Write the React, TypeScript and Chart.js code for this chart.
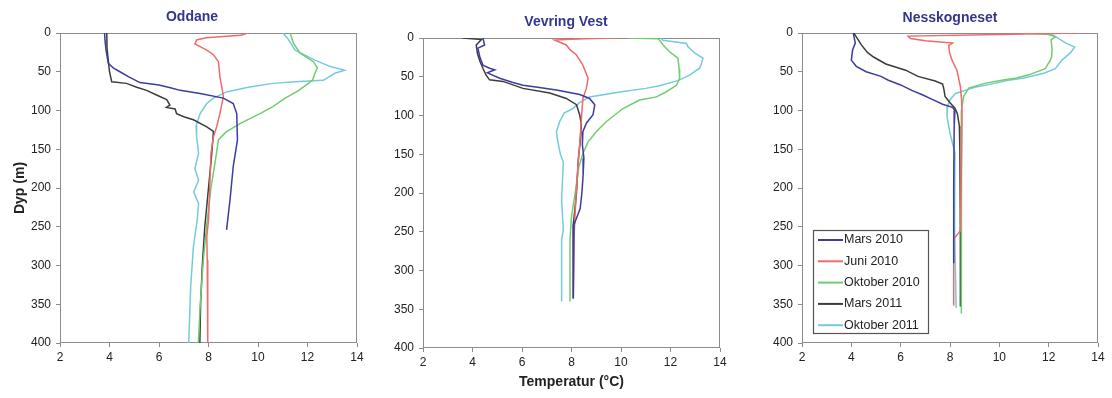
import React, { useEffect, useRef } from 'react';
import { Chart, registerables } from 'chart.js';

Chart.register(...registerables);

// ---------- series / ticks ----------
const seriesNames = ['Mars 2010', 'Juni 2010', 'Oktober 2010', 'Mars 2011', 'Oktober 2011'];
const seriesColors = ['#3c3ca2', '#f06a6a', '#6fcd6f', '#3c3c3c', '#74cbdb'];
const xTickValues = [2, 4, 6, 8, 10, 12, 14];
const yTickValues = [0, 50, 100, 150, 200, 250, 300, 350, 400];
const panelTitles = ['Oddane', 'Vevring Vest', 'Nesskogneset'];

// ---------- data: [depth (m), temperature (°C)] ----------
// Oddane
const oddaneMars2010 = [[0, 3.8], [10, 3.82], [22, 3.86], [39, 3.95], [45, 4.15], [50, 4.42], [57, 4.8], [64, 5.23], [67, 6.0], [71, 6.5], [74, 6.85], [78, 7.66], [84, 8.6], [91, 9.0], [104, 9.14], [138, 9.17], [172, 9.0], [215, 8.87], [254, 8.73]];
const oddaneJuni2010 = [[0, 9.6], [3, 9.3], [6, 7.9], [9, 7.52], [14, 7.45], [22, 7.93], [28, 8.2], [37, 8.4], [56, 8.46], [74, 8.56], [82, 8.6], [104, 8.46], [121, 8.33], [134, 8.2], [155, 8.1], [200, 8.05], [241, 8.0], [263, 7.93], [293, 7.95], [400, 7.97]];
const oddaneOktober2010 = [[0, 11.3], [13, 11.43], [26, 11.7], [37, 12.24], [45, 12.4], [52, 12.3], [61, 12.2], [67, 11.95], [75, 11.6], [84, 11.1], [95, 10.6], [104, 10.08], [117, 9.27], [128, 8.7], [138, 8.4], [160, 8.3], [200, 8.1], [250, 7.92], [293, 7.79], [353, 7.66], [400, 7.59]];
const oddaneMars2011 = [[0, 3.89], [20, 3.9], [35, 3.95], [50, 4.0], [63, 4.09], [65, 4.69], [70, 5.1], [74, 5.5], [80, 5.9], [86, 6.31], [93, 6.44], [96, 6.3], [98, 6.65], [104, 6.71], [108, 7.0], [112, 7.39], [121, 7.93], [127, 8.2], [160, 8.12], [200, 8.0], [250, 7.85], [300, 7.75], [350, 7.68], [400, 7.65]];
const oddaneOktober2011 = [[0, 11.0], [7, 11.2], [22, 11.5], [35, 12.3], [43, 12.9], [48, 13.5], [52, 13.1], [56, 12.9], [61, 12.64], [63, 11.5], [65, 10.6], [70, 9.6], [76, 8.73], [84, 8.2], [91, 7.93], [104, 7.66], [120, 7.5], [134, 7.52], [155, 7.6], [175, 7.45], [190, 7.6], [205, 7.4], [220, 7.6], [240, 7.55], [276, 7.39], [327, 7.28], [400, 7.2]];

// Vevring Vest
const vevringMars2010 = [[0, 4.42], [9, 4.49], [13, 4.22], [25, 4.3], [35, 4.42], [39, 4.69], [41, 4.9], [45, 4.6], [52, 5.1], [57, 5.6], [61, 6.04], [64, 6.7], [67, 7.39], [73, 8.33], [78, 8.73], [86, 8.94], [99, 8.87], [110, 8.6], [121, 8.46], [138, 8.44], [155, 8.5], [177, 8.47], [200, 8.42], [220, 8.35], [241, 8.1], [300, 8.08], [336, 8.07]];
const vevringJuni2010 = [[0, 9.8], [1, 8.5], [2.6, 7.32], [9, 7.79], [15, 7.94], [22, 8.2], [35, 8.46], [52, 8.67], [65, 8.6], [78, 8.46], [104, 8.4], [138, 8.33], [157, 8.28], [192, 8.2], [231, 8.14], [260, 8.1], [334, 8.07]];
const vevringOktober2010 = [[0, 10.3], [1, 11.5], [3, 11.56], [9, 11.7], [18, 11.97], [26, 12.3], [40, 12.35], [52, 12.37], [61, 12.24], [70, 11.8], [76, 11.43], [80, 10.75], [91, 10.08], [108, 9.4], [121, 9.0], [134, 8.67], [150, 8.45], [166, 8.3], [200, 8.15], [230, 8.0], [260, 7.94], [340, 7.94]];
const vevringMars2011 = [[0, 3.6], [2, 4.36], [9, 4.15], [20, 4.2], [30, 4.3], [39, 4.42], [48, 4.55], [54, 4.69], [56, 5.23], [65, 6.04], [71, 7.12], [78, 7.79], [86, 8.2], [99, 8.33], [112, 8.4], [134, 8.35], [155, 8.28], [200, 8.2], [220, 8.14], [241, 8.07], [336, 8.07]];
const vevringOktober2011 = [[0, 11.6], [3, 11.7], [7, 12.65], [11, 12.7], [20, 13.0], [26, 13.31], [33, 13.25], [39, 13.18], [48, 12.77], [55, 12.3], [62, 11.5], [65, 11.0], [69, 10.08], [76, 8.73], [84, 8.3], [91, 8.06], [97, 7.7], [108, 7.52], [121, 7.39], [134, 7.45], [150, 7.55], [160, 7.67], [209, 7.6], [248, 7.67], [260, 7.6], [340, 7.6]];

// Nesskogneset
const nessMars2010 = [[0, 4.08], [13, 4.16], [22, 4.05], [35, 4.0], [43, 4.2], [50, 4.6], [56, 5.2], [61, 5.5], [67, 6.0], [74, 6.45], [80, 6.9], [86, 7.3], [92, 7.7], [96, 8.1], [100, 8.2], [120, 8.17], [200, 8.15], [297, 8.15]];
const nessJuni2010 = [[0, 13.2], [2, 10.0], [4, 6.3], [7, 6.4], [10, 7.0], [13, 8.1], [16, 7.95], [25, 7.98], [35, 8.08], [48, 8.28], [69, 8.42], [86, 8.47], [104, 8.49], [200, 8.45], [255, 8.42], [266, 8.15], [352, 8.15]];
const nessOktober2010 = [[0, 11.0], [2, 12.0], [5, 12.27], [9, 12.1], [22, 12.14], [30, 12.12], [35, 12.07], [46, 11.86], [54, 11.19], [58, 10.7], [61, 10.1], [65, 9.4], [71, 8.76], [82, 8.55], [99, 8.47], [172, 8.47], [362, 8.45]];
const nessMars2011 = [[0, 4.1], [5, 4.2], [15, 4.4], [25, 4.65], [31, 4.9], [40, 5.4], [48, 6.2], [56, 6.7], [62, 7.4], [66, 7.7], [72, 7.75], [82, 7.8], [90, 8.0], [97, 8.2], [104, 8.3], [120, 8.38], [150, 8.4], [250, 8.42], [353, 8.42]];
const nessOktober2011 = [[0, 12.0], [5, 12.3], [13, 12.7], [18, 13.05], [25, 12.9], [35, 12.54], [46, 12.27], [52, 11.8], [58, 11.0], [61, 10.38], [65, 9.8], [70, 9.0], [74, 8.62], [78, 8.22], [86, 8.0], [95, 7.9], [108, 7.88], [129, 8.0], [155, 8.2], [165, 8.17], [250, 8.2], [355, 8.25]];

const panelSeries = [
  [oddaneMars2010, oddaneJuni2010, oddaneOktober2010, oddaneMars2011, oddaneOktober2011],
  [vevringMars2010, vevringJuni2010, vevringOktober2010, vevringMars2011, vevringOktober2011],
  [nessMars2010, nessJuni2010, nessOktober2010, nessMars2011, nessOktober2011],
];

// ---------- layout (pixels) ----------
const H = 398;
const panelLayout = [
  { left: 0, width: 370, area: { l: 60, r: 357, t: 33, b: 343 }, titleX: 192, titleY: 17, yTitle: 'Dyp (m)', xTitle: '', legend: false },
  { left: 370, width: 370, area: { l: 53, r: 350, t: 38, b: 348 }, titleX: 196, titleY: 22, yTitle: '', xTitle: 'Temperatur (°C)', legend: false },
  { left: 740, width: 372, area: { l: 62, r: 358, t: 33, b: 343 }, titleX: 210, titleY: 18, yTitle: '', xTitle: '', legend: true },
];

const FONT = '"Liberation Sans", Arial, Helvetica, sans-serif';

const framePlugin = {
  id: 'frame',
  beforeDatasetsDraw(chart: any) {
    const { ctx, chartArea } = chart;
    ctx.save();
    ctx.strokeStyle = '#8c8c8c';
    ctx.lineWidth = 1;
    ctx.strokeRect(chartArea.left + 0.5, chartArea.top + 0.5, chartArea.right - chartArea.left - 1, chartArea.bottom - chartArea.top - 1);
    ctx.restore();
  },
};

const titlePlugin = {
  id: 'panelTitle',
  afterDraw(chart: any, _args: any, opts: any) {
    if (!opts || !opts.text) return;
    const { ctx } = chart;
    ctx.save();
    ctx.font = `bold 14px ${FONT}`;
    ctx.fillStyle = '#35358f';
    ctx.textAlign = 'center';
    ctx.textBaseline = 'middle';
    ctx.fillText(opts.text, opts.x, opts.y);
    ctx.restore();
  },
};

const boxLegendPlugin = {
  id: 'boxLegend',
  afterDatasetsDraw(chart: any, _args: any, opts: any) {
    if (!opts || !opts.display) return;
    const { ctx, chartArea } = chart;
    const x0 = chartArea.left + opts.dx;
    const y0 = chartArea.top + opts.dy;
    ctx.save();
    ctx.fillStyle = '#ffffff';
    ctx.fillRect(x0, y0, opts.w, opts.h);
    ctx.strokeStyle = '#555555';
    ctx.lineWidth = 1.2;
    ctx.strokeRect(x0 + 0.5, y0 + 0.5, opts.w, opts.h);
    ctx.font = `12.5px ${FONT}`;
    ctx.textBaseline = 'middle';
    ctx.textAlign = 'left';
    chart.data.datasets.forEach((ds: any, i: number) => {
      const cy = y0 + opts.first + i * opts.step;
      ctx.strokeStyle = ds.borderColor;
      ctx.lineWidth = 2;
      ctx.beginPath();
      ctx.moveTo(x0 + 5, cy);
      ctx.lineTo(x0 + 30, cy);
      ctx.stroke();
      ctx.fillStyle = '#222222';
      ctx.fillText(ds.label, x0 + 31, cy);
    });
    ctx.restore();
  },
};

function Panel({ index }: { index: number }) {
  const ref = useRef<HTMLCanvasElement | null>(null);
  const lay = panelLayout[index];

  useEffect(() => {
    if (!ref.current) return;
    const series = panelSeries[index];
    const datasets = series.map((pairs, i) => ({
      label: seriesNames[i],
      data: pairs.map(([d, t]) => ({ x: t, y: d })),
      borderColor: seriesColors[i],
      backgroundColor: seriesColors[i],
      borderWidth: 1.5,
      pointRadius: 0,
      tension: 0,
      fill: false,
    }));
    const a = lay.area;
    const tickFont = { size: 12, family: FONT };
    const chart = new Chart(ref.current, {
      type: 'line',
      data: { datasets },
      plugins: [framePlugin, titlePlugin, boxLegendPlugin],
      options: {
        animation: false,
        responsive: false,
        maintainAspectRatio: false,
        layout: { padding: { left: 0, right: lay.width - a.r, top: a.t, bottom: 0 } },
        plugins: {
          legend: { display: false },
          tooltip: { enabled: false },
          title: { display: false },
          panelTitle: { text: panelTitles[index], x: lay.titleX, y: lay.titleY },
          boxLegend: { display: lay.legend, dx: 11, dy: 197, w: 115, h: 103, first: 10, step: 21.3 },
        } as any,
        scales: {
          x: {
            type: 'linear',
            min: 2,
            max: 14,
            afterBuildTicks: (scale: any) => { scale.ticks = xTickValues.map((v) => ({ value: v })); },
            afterFit: (scale: any) => { scale.height = H - a.b; },
            ticks: { font: tickFont, color: '#222222', padding: 3, maxRotation: 0, autoSkip: false },
            grid: { display: true, drawOnChartArea: false, drawTicks: true, tickLength: 4, color: '#8c8c8c' },
            border: { display: false },
            title: {
              display: !!lay.xTitle,
              text: lay.xTitle,
              color: '#222222',
              font: { size: 14, weight: 'bold', family: FONT },
              padding: { top: 0, bottom: 7 },
            },
          },
          y: {
            type: 'linear',
            reverse: true,
            min: 0,
            max: 400,
            afterBuildTicks: (scale: any) => { scale.ticks = yTickValues.map((v) => ({ value: v })); },
            afterFit: (scale: any) => { scale.width = a.l; },
            ticks: { font: tickFont, color: '#222222', padding: 5, autoSkip: false },
            grid: { display: true, drawOnChartArea: false, drawTicks: true, tickLength: 4, color: '#8c8c8c' },
            border: { display: false },
            title: {
              display: !!lay.yTitle,
              text: lay.yTitle,
              color: '#222222',
              font: { size: 14, weight: 'bold', family: FONT },
              padding: { top: 11.5, bottom: 0 },
            },
          },
        },
      } as any,
    });
    return () => chart.destroy();
  }, [index]);

  return (
    <canvas
      ref={ref}
      width={lay.width}
      height={H}
      style={{ position: 'absolute', left: lay.left, top: 0, width: lay.width, height: H, display: 'block' }}
    />
  );
}

export default function App() {
  return (
    <div style={{ position: 'absolute', left: 0, top: 0, width: 1112, height: H, background: '#ffffff', overflow: 'hidden' }}>
      <Panel index={0} />
      <Panel index={1} />
      <Panel index={2} />
    </div>
  );
}
